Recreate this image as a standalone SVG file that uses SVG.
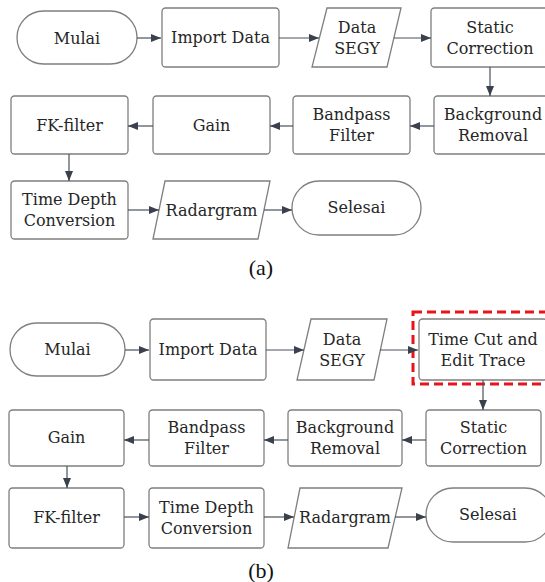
<svg xmlns="http://www.w3.org/2000/svg" width="545" height="582" viewBox="0 0 545 582">
  <style>
    .box { fill: #ffffff; stroke: #7f7f7f; stroke-width: 1.3; }
    .lbl { font-family: "DejaVu Serif", "Liberation Serif", serif; font-size: 16px; fill: #262626; text-anchor: middle; }
    .cap { font-family: "Liberation Serif", "Times New Roman", serif; font-size: 22px; fill: #111111; text-anchor: middle; }
    .conn { fill: none; stroke: #4a505c; stroke-width: 1.2; }
    .hl { fill: none; stroke: #e8141b; stroke-width: 3; stroke-dasharray: 9 5; }
  </style>
  <defs>
    <marker id="arrow" viewBox="0 0 10 8" refX="10" refY="4" markerWidth="10" markerHeight="8" markerUnits="userSpaceOnUse" orient="auto">
      <path d="M0,0 L10,4 L0,8 Z" fill="#3a404c"/>
    </marker>
  </defs>
  <rect width="545" height="582" fill="#ffffff"/>

  <!-- (a) original workflow -->
  <g id="a-mulai"><rect class="box" x="17" y="11" width="120" height="53" rx="26.5"/><text class="lbl" x="77" y="43.5">Mulai</text></g>
  <g id="a-import"><rect class="box" x="162" y="8" width="117" height="59" rx="3.5"/><text class="lbl" x="220.5" y="43">Import Data</text></g>
  <g id="a-segy"><path class="box" d="M327,8 L401,8 L387,67 L312,67 Z"/><text class="lbl" x="357" y="33">Data</text><text class="lbl" x="357" y="54">SEGY</text></g>
  <g id="a-static"><rect class="box" x="431" y="8" width="118" height="59" rx="3.5"/><text class="lbl" x="490" y="33">Static</text><text class="lbl" x="490" y="54">Correction</text></g>
  <g id="a-background"><rect class="box" x="434" y="96" width="118" height="58" rx="3.5"/><text class="lbl" x="493" y="120">Background</text><text class="lbl" x="493" y="141">Removal</text></g>
  <g id="a-bandpass"><rect class="box" x="293" y="96" width="117" height="58" rx="3.5"/><text class="lbl" x="351.5" y="120">Bandpass</text><text class="lbl" x="351.5" y="141">Filter</text></g>
  <g id="a-gain"><rect class="box" x="153" y="96" width="117" height="58" rx="3.5"/><text class="lbl" x="211.5" y="131">Gain</text></g>
  <g id="a-fk"><rect class="box" x="11" y="96" width="117" height="58" rx="3.5"/><text class="lbl" x="69.5" y="131">FK-filter</text></g>
  <g id="a-timedepth"><rect class="box" x="11" y="181" width="117" height="58" rx="3.5"/><text class="lbl" x="69.5" y="205">Time Depth</text><text class="lbl" x="69.5" y="226">Conversion</text></g>
  <g id="a-radargram"><path class="box" d="M165,181 L270,181 L258,239 L153,239 Z"/><text class="lbl" x="211.5" y="215.5">Radargram</text></g>
  <g id="a-selesai"><rect class="box" x="292" y="181" width="129" height="54" rx="27"/><text class="lbl" x="356.5" y="213">Selesai</text></g>

  <g id="a-connectors">
    <line class="conn" x1="137" y1="38" x2="161" y2="38" marker-end="url(#arrow)"/>
    <line class="conn" x1="279" y1="38" x2="319" y2="38" marker-end="url(#arrow)"/>
    <line class="conn" x1="394" y1="38" x2="431" y2="38" marker-end="url(#arrow)"/>
    <line class="conn" x1="490" y1="67" x2="490" y2="96" marker-end="url(#arrow)"/>
    <line class="conn" x1="434" y1="126" x2="410" y2="126" marker-end="url(#arrow)"/>
    <line class="conn" x1="293" y1="126" x2="270" y2="126" marker-end="url(#arrow)"/>
    <line class="conn" x1="153" y1="126" x2="128" y2="126" marker-end="url(#arrow)"/>
    <line class="conn" x1="69" y1="154" x2="69" y2="181" marker-end="url(#arrow)"/>
    <line class="conn" x1="128" y1="210" x2="159" y2="210" marker-end="url(#arrow)"/>
    <line class="conn" x1="264" y1="210" x2="292" y2="210" marker-end="url(#arrow)"/>
  </g>
  <text class="cap" x="261" y="275">(a)</text>

  <!-- (b) workflow with the added trace-editing step -->
  <g id="b-mulai"><rect class="box" x="10" y="323" width="115" height="53" rx="26.5"/><text class="lbl" x="67.5" y="355">Mulai</text></g>
  <g id="b-import"><rect class="box" x="150" y="319" width="116" height="61" rx="3.5"/><text class="lbl" x="208" y="355">Import Data</text></g>
  <g id="b-segy"><path class="box" d="M311,319 L387,319 L374,380 L297,380 Z"/><text class="lbl" x="342" y="345">Data</text><text class="lbl" x="342" y="366">SEGY</text></g>
  <g id="b-timecut"><rect class="box" x="419" y="319" width="128" height="61" rx="3.5"/><text class="lbl" x="483" y="345">Time Cut and</text><text class="lbl" x="483" y="366">Edit Trace</text></g>
  <rect id="b-highlight" class="hl" x="413" y="312" width="140" height="72"/>
  <g id="b-static"><rect class="box" x="426" y="410" width="115" height="56" rx="3.5"/><text class="lbl" x="483.5" y="433">Static</text><text class="lbl" x="483.5" y="454">Correction</text></g>
  <g id="b-background"><rect class="box" x="288" y="410" width="114" height="56" rx="3.5"/><text class="lbl" x="345" y="433">Background</text><text class="lbl" x="345" y="454">Removal</text></g>
  <g id="b-bandpass"><rect class="box" x="149" y="410" width="115" height="56" rx="3.5"/><text class="lbl" x="206.5" y="433">Bandpass</text><text class="lbl" x="206.5" y="454">Filter</text></g>
  <g id="b-gain"><rect class="box" x="9" y="410" width="115" height="56" rx="3.5"/><text class="lbl" x="66.5" y="443">Gain</text></g>
  <g id="b-fk"><rect class="box" x="9" y="488" width="115" height="60" rx="3.5"/><text class="lbl" x="66.5" y="523">FK-filter</text></g>
  <g id="b-timedepth"><rect class="box" x="149" y="488" width="115" height="60" rx="3.5"/><text class="lbl" x="206.5" y="513">Time Depth</text><text class="lbl" x="206.5" y="534">Conversion</text></g>
  <g id="b-radargram"><path class="box" d="M300,488 L402,488 L388,548 L288,548 Z"/><text class="lbl" x="345" y="523">Radargram</text></g>
  <g id="b-selesai"><rect class="box" x="426" y="488" width="126" height="54" rx="27"/><text class="lbl" x="488" y="520">Selesai</text></g>

  <g id="b-connectors">
    <line class="conn" x1="125" y1="350" x2="149" y2="350" marker-end="url(#arrow)"/>
    <line class="conn" x1="266" y1="350" x2="304" y2="350" marker-end="url(#arrow)"/>
    <line class="conn" x1="380" y1="350" x2="418" y2="350" marker-end="url(#arrow)"/>
    <line class="conn" x1="483" y1="380" x2="483" y2="410" marker-end="url(#arrow)"/>
    <line class="conn" x1="426" y1="440" x2="402" y2="440" marker-end="url(#arrow)"/>
    <line class="conn" x1="288" y1="440" x2="264" y2="440" marker-end="url(#arrow)"/>
    <line class="conn" x1="149" y1="440" x2="124" y2="440" marker-end="url(#arrow)"/>
    <line class="conn" x1="67" y1="466" x2="67" y2="488" marker-end="url(#arrow)"/>
    <line class="conn" x1="124" y1="517" x2="149" y2="517" marker-end="url(#arrow)"/>
    <line class="conn" x1="264" y1="517" x2="294" y2="517" marker-end="url(#arrow)"/>
    <line class="conn" x1="395" y1="517" x2="426" y2="517" marker-end="url(#arrow)"/>
  </g>
  <text class="cap" x="261" y="578">(b)</text>
</svg>
